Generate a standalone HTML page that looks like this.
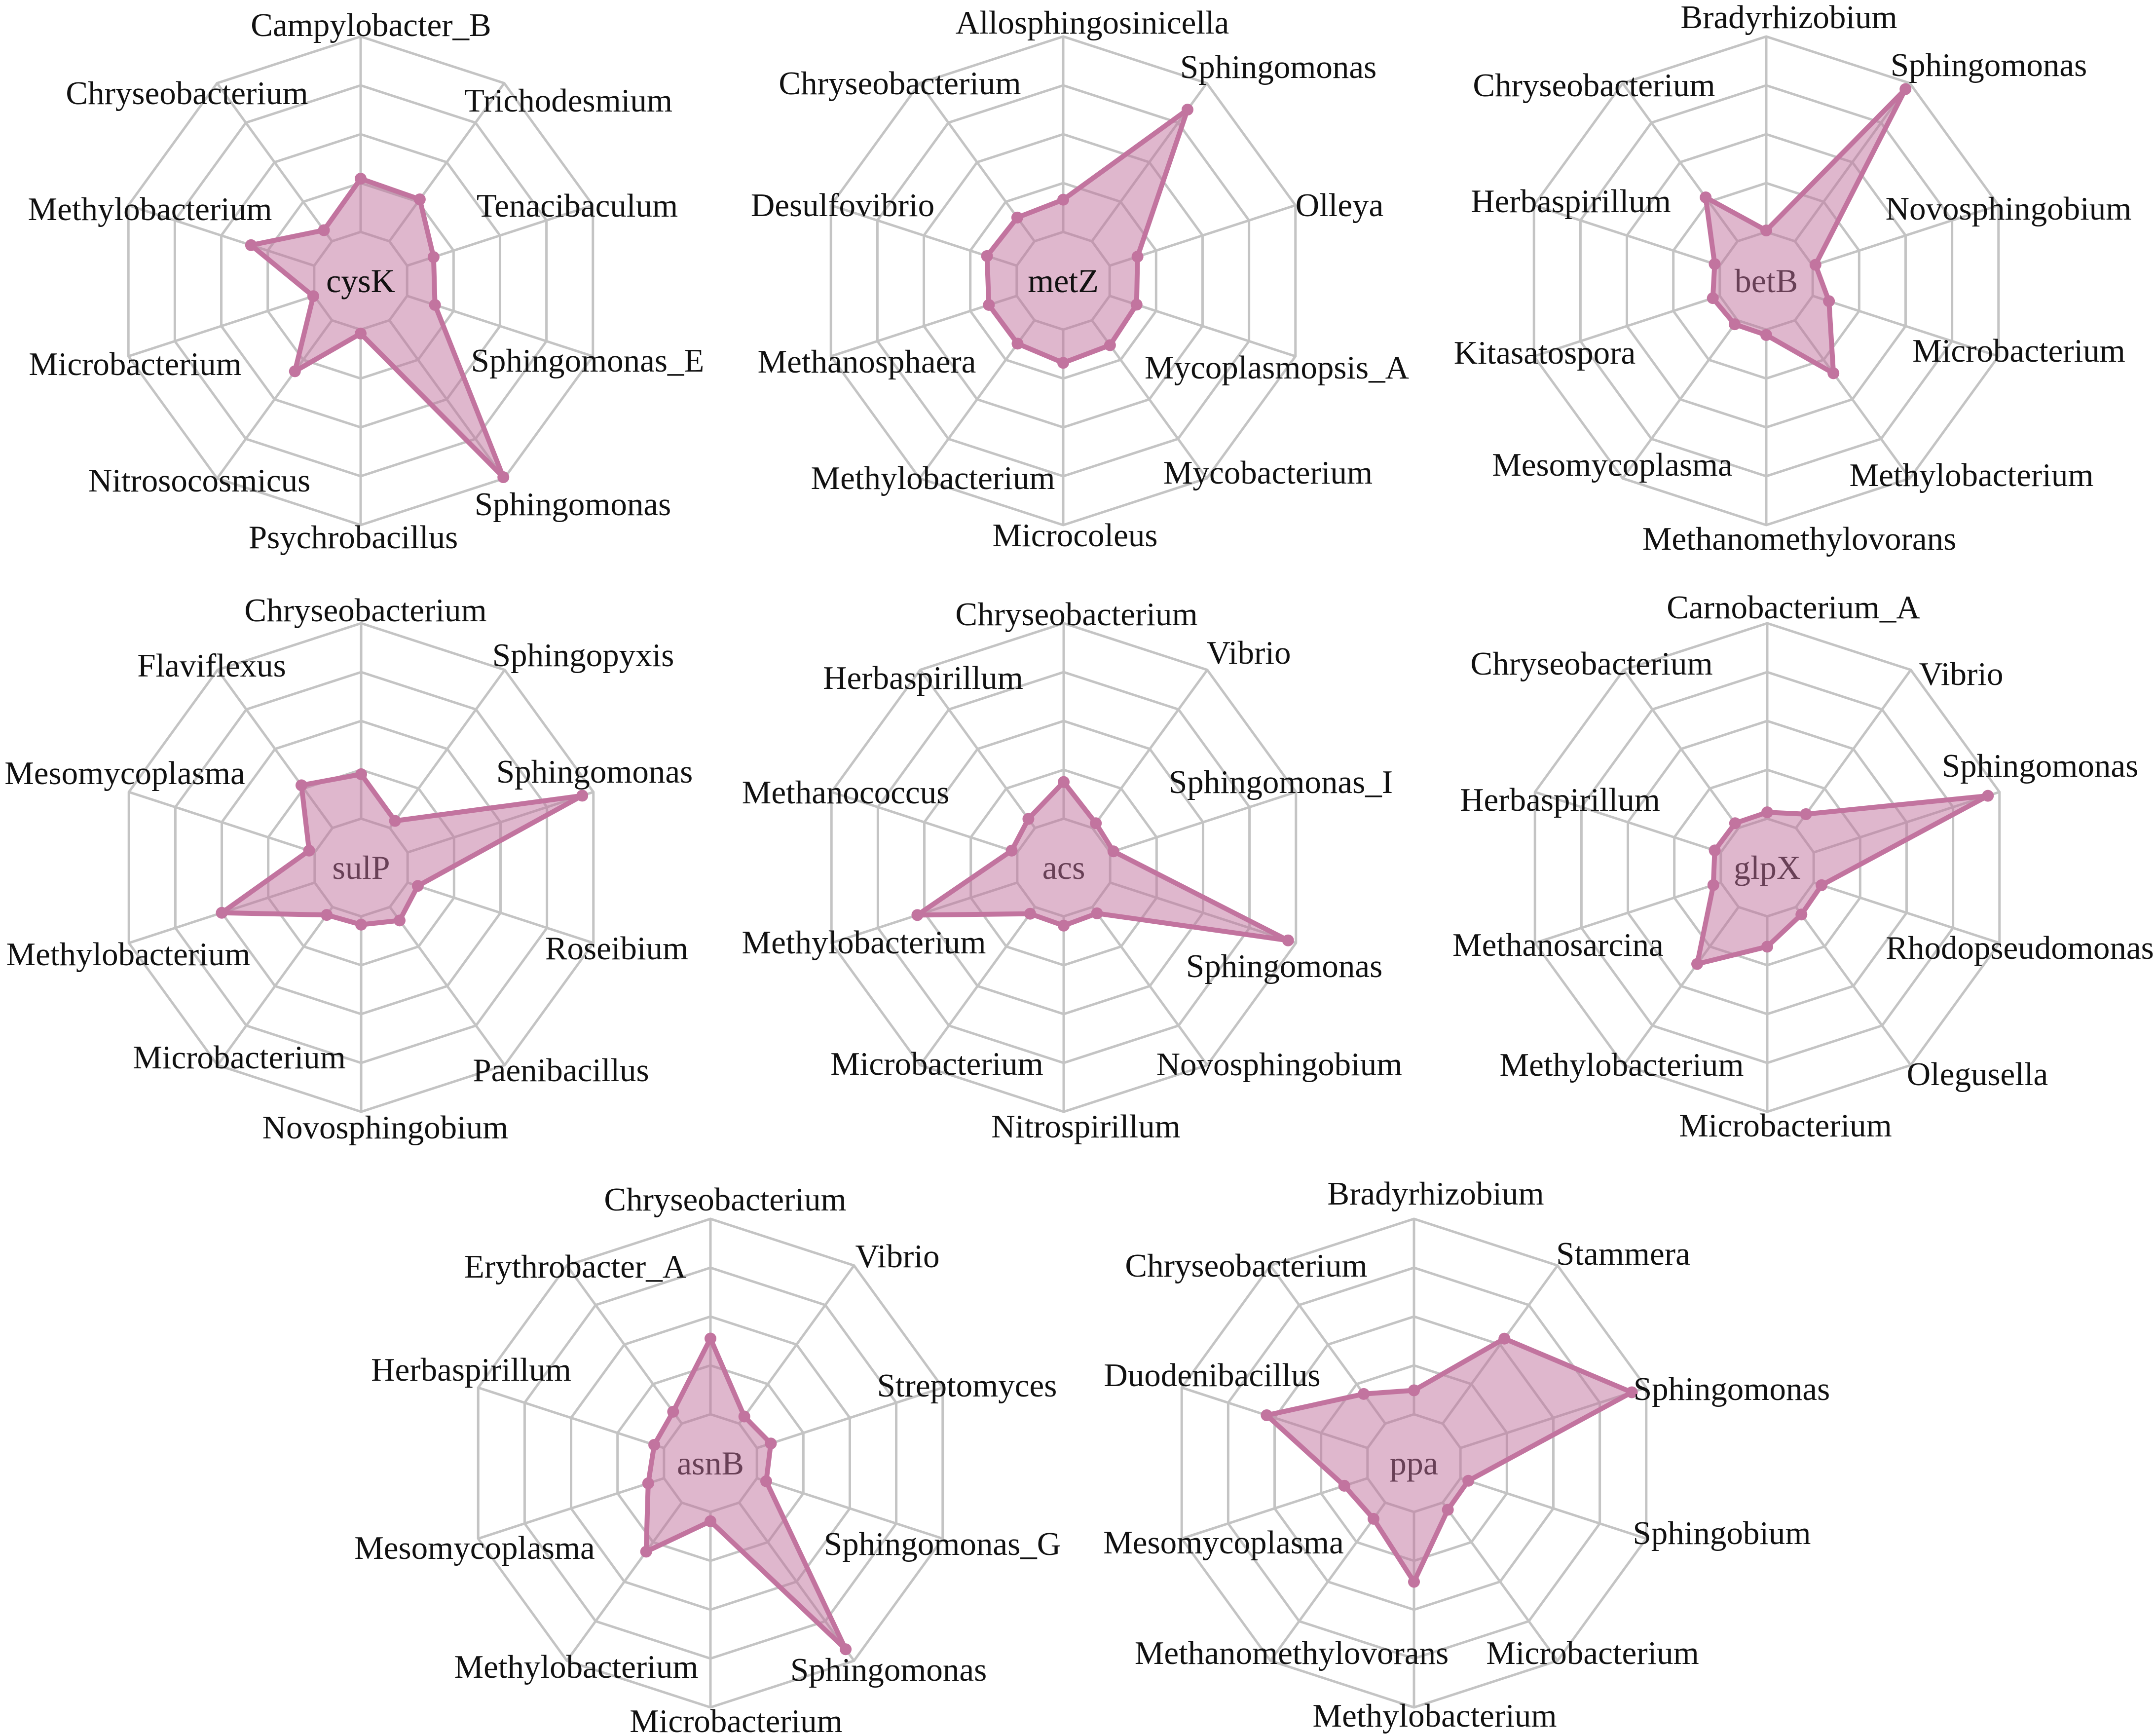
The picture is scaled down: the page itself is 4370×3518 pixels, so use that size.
<!DOCTYPE html>
<html>
<head>
<meta charset="utf-8">
<style>
  html,body{margin:0;padding:0;background:#ffffff;}
  svg{display:block;}
  text{font-family:"Liberation Serif",serif;}
</style>
</head>
<body>
<svg id="fig" xmlns="http://www.w3.org/2000/svg" width="4370" height="3518" viewBox="0 0 4370 3518"></svg>
<script>
// ---------- data ----------
const cysK_axes = ["Campylobacter_B","Trichodesmium","Tenacibaculum","Sphingomonas_E","Sphingomonas","Psychrobacillus","Nitrosocosmicus","Microbacterium","Methylobacterium","Chryseobacterium"];
const cysK_values = [2.09, 2.06, 1.57, 1.6, 4.97, 1.08, 2.29, 1.02, 2.36, 1.28];

const metZ_axes = ["Allosphingosinicella","Sphingomonas","Olleya","Mycoplasmopsis_A","Mycobacterium","Microcoleus","Methylobacterium","Methanosphaera","Desulfovibrio","Chryseobacterium"];
const metZ_values = [1.66, 4.33, 1.6, 1.58, 1.63, 1.68, 1.59, 1.6, 1.64, 1.6];

const betB_axes = ["Bradyrhizobium","Sphingomonas","Novosphingobium","Microbacterium","Methylobacterium","Methanomethylovorans","Mesomycoplasma","Kitasatospora","Herbaspirillum","Chryseobacterium"];
const betB_values = [1.03, 4.85, 1.06, 1.35, 2.34, 1.11, 1.1, 1.15, 1.11, 2.11];

const sulP_axes = ["Chryseobacterium","Sphingopyxis","Sphingomonas","Roseibium","Paenibacillus","Novosphingobium","Microbacterium","Methylobacterium","Mesomycoplasma","Flaviflexus"];
const sulP_values = [1.91, 1.18, 4.76, 1.22, 1.34, 1.17, 1.2, 3.0, 1.12, 2.08];

const acs_axes = ["Chryseobacterium","Vibrio","Sphingomonas_I","Sphingomonas","Novosphingobium","Nitrospirillum","Microbacterium","Methylobacterium","Methanococcus","Herbaspirillum"];
const acs_values = [1.75, 1.12, 1.07, 4.83, 1.16, 1.19, 1.17, 3.15, 1.12, 1.23];

const glpX_axes = ["Carnobacterium_A","Vibrio","Sphingomonas","Rhodopseudomonas","Olegusella","Microbacterium","Methylobacterium","Methanosarcina","Herbaspirillum","Chryseobacterium"];
const glpX_values = [1.13, 1.35, 4.75, 1.17, 1.19, 1.62, 2.44, 1.16, 1.13, 1.12];

const asnB_axes = ["Chryseobacterium","Vibrio","Streptomyces","Sphingomonas_G","Sphingomonas","Microbacterium","Methylobacterium","Mesomycoplasma","Herbaspirillum","Erythrobacter_A"];
const asnB_values = [2.55, 1.18, 1.3, 1.2, 4.71, 1.19, 2.24, 1.34, 1.21, 1.3];

const ppa_axes = ["Bradyrhizobium","Stammera","Sphingomonas","Sphingobium","Microbacterium","Methylobacterium","Methanomethylovorans","Mesomycoplasma","Duodenibacillus","Chryseobacterium"];
const ppa_values = [1.49, 3.15, 4.69, 1.17, 1.18, 2.43, 1.41, 1.5, 3.17, 1.75];

const gene_names = ["cysK","metZ","betB","sulP","acs","glpX","asnB","ppa"];
const scale_max = 5;
const ring_levels = [1, 2, 3, 4, 5];

// ---------- layout (positions only) ----------
const layout = [
  {cx:731,  cy:569,  tc:"#111111", lab:[[21,-518],[421,-365],[439,-152],[460,162],[430,453],[-15,520],[-327,405],[-457,169],[-427,-145],[-352,-380]]},
  {cx:2155, cy:569,  tc:"#111111", lab:[[59,-523],[436,-433],[560,-153],[433,176],[415,389],[24,516],[-264,400],[-398,164],[-447,-153],[-331,-400]]},
  {cx:3580, cy:569,  tc:"#5e2d4a", lab:[[46,-534],[451,-437],[491,-146],[512,142],[416,394],[67,523],[-312,373],[-449,146],[-396,-161],[-349,-396]]},
  {cx:732,  cy:1758, tc:"#5e2d4a", lab:[[9,-521],[450,-430],[473,-194],[518,164],[405,411],[49,527],[-247,385],[-472,176],[-479,-191],[-303,-409]]},
  {cx:2156, cy:1758, tc:"#5e2d4a", lab:[[26,-513],[375,-435],[440,-173],[447,200],[437,399],[45,525],[-257,398],[-405,152],[-442,-152],[-285,-384]]},
  {cx:3582, cy:1758, tc:"#5e2d4a", lab:[[53,-527],[393,-392],[553,-206],[512,163],[426,419],[37,523],[-295,400],[-424,157],[-420,-137],[-356,-413]]},
  {cx:1440, cy:2965, tc:"#5e2d4a", lab:[[30,-534],[379,-419],[520,-157],[470,164],[361,419],[52,523],[-272,413],[-478,172],[-485,-189],[-274,-398]]},
  {cx:2866, cy:2965, tc:"#5e2d4a", lab:[[44,-546],[424,-424],[644,-150],[624,142],[362,385],[42,512],[-248,385],[-386,161],[-409,-178],[-340,-400]]}
];
const R = 495;

const allAxes = [cysK_axes, metZ_axes, betB_axes, sulP_axes, acs_axes, glpX_axes, asnB_axes, ppa_axes];
const allValues = [cysK_values, metZ_values, betB_values, sulP_values, acs_values, glpX_values, asnB_values, ppa_values];

const NS = "http://www.w3.org/2000/svg";
const svg = document.getElementById("fig");
function mk(tag, attrs){ const e=document.createElementNS(NS,tag); for(const k in attrs) e.setAttribute(k,attrs[k]); return e; }

function angle(i, n){ return (i / n) * 2 * Math.PI; }
function rScale(v){ return v / scale_max * R; }
function pt(cx, cy, i, n, v){ const a=angle(i,n), r=rScale(v); return [cx + r*Math.sin(a), cy - r*Math.cos(a)]; }

const FONT = "'Liberation Serif', serif";

for (let c = 0; c < gene_names.length; c++) {
  const L = layout[c], axes = allAxes[c], vals = allValues[c], n = axes.length;
  const g = mk("g", {});
  
  
  svg.appendChild(g);

  ring_levels.forEach(lv => {
    const pts = [];
    for (let i = 0; i < n; i++) pts.push(pt(L.cx, L.cy, i, n, lv).join(","));
    const ring = mk("polygon", {points: pts.join(" "), fill: "none", stroke: "#c4c4c4", "stroke-width": 5});
    
    
    g.appendChild(ring);
  });
  for (let i = 0; i < n; i++) {
    const p1 = pt(L.cx, L.cy, i, n, ring_levels[0]), p2 = pt(L.cx, L.cy, i, n, scale_max);
    const sp = mk("line", {x1:p1[0], y1:p1[1], x2:p2[0], y2:p2[1], stroke:"#c4c4c4", "stroke-width":5});
    
    
    g.appendChild(sp);
  }
  const ct = mk("text", {x:L.cx, y:L.cy, "text-anchor":"middle", "dominant-baseline":"central", "font-size":68, "font-family":FONT, fill:"#111"});
  ct.textContent = gene_names[c];
  
  
  g.appendChild(ct);

  const dpts = vals.map((v, i) => pt(L.cx, L.cy, i, n, v));
  const poly = mk("polygon", {points: dpts.map(p => p.join(",")).join(" "), fill:"rgba(192,112,156,0.5)", stroke:"#c2749f", "stroke-width":10, "stroke-linejoin":"round"});
  
  
  g.appendChild(poly);
  if (L.tc === "#111111") {
    const ct2 = ct.cloneNode(true);
    
    
    g.appendChild(ct2);
  }
  dpts.forEach(p => {
    const dot = mk("circle", {cx:p[0], cy:p[1], r:12, fill:"#c2749f"});
    
    
    g.appendChild(dot);
  });
  axes.forEach((name, i) => {
    const t = mk("text", {x:L.cx + L.lab[i][0], y:L.cy + L.lab[i][1], "text-anchor":"middle", "dominant-baseline":"central", "font-size":67, "font-family":FONT, fill:"#111"});
    t.textContent = name;
    
    
    g.appendChild(t);
  });
}
</script>
</body>
</html>
